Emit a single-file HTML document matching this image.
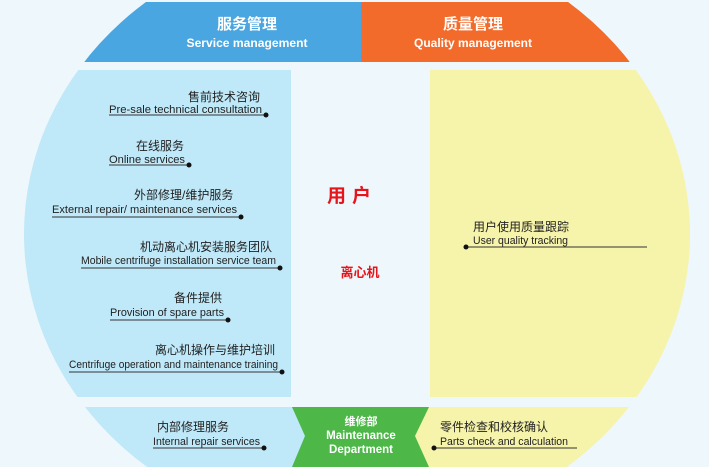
<!DOCTYPE html>
<html><head><meta charset="utf-8"><style>
html,body{margin:0;padding:0;background:#eef7fb;}
svg{display:block;}
text{font-family:"Liberation Sans","Noto Sans CJK SC",sans-serif;}
.cn{font-size:12px;fill:#222;}
.en{font-size:11px;fill:#222;}
.w{fill:#fff;font-weight:bold;}
</style></head><body>
<svg width="709" height="467" viewBox="0 0 709 467" xmlns="http://www.w3.org/2000/svg">
<defs><clipPath id="c"><ellipse cx="357" cy="234" rx="333" ry="300"/></clipPath></defs>
<rect width="709" height="467" fill="#eef7fb"/>
<g clip-path="url(#c)">
<rect x="0" y="2" width="361" height="60" fill="#4aa6e0"/>
<rect x="361" y="2" width="348" height="60" fill="#f26b2b"/>
<rect x="0" y="70" width="291" height="327" fill="#bfe8f8"/>
<rect x="430" y="70" width="279" height="327" fill="#f6f3aa"/>
<rect x="0" y="407" width="310" height="60" fill="#bfe8f8"/>
<rect x="410" y="407" width="299" height="60" fill="#f6f3aa"/>
<polygon points="292,407 429,407 415,436 429,467 292,467 305,436" fill="#4db748"/>
</g>
<text x="247" y="29" text-anchor="middle" class="w" font-size="15">服务管理</text>
<text x="247" y="47" text-anchor="middle" class="w" font-size="12" font-weight="normal" textLength="121" lengthAdjust="spacingAndGlyphs">Service management</text>
<text x="473" y="29" text-anchor="middle" class="w" font-size="15">质量管理</text>
<text x="473" y="47" text-anchor="middle" class="w" font-size="12" font-weight="normal" textLength="118" lengthAdjust="spacingAndGlyphs">Quality management</text>

<g stroke="#333" stroke-width="1">
<line x1="109" y1="115" x2="266" y2="115"/>
<line x1="109" y1="165" x2="189" y2="165"/>
<line x1="52" y1="217" x2="241" y2="217"/>
<line x1="81" y1="268" x2="280" y2="268"/>
<line x1="110" y1="320" x2="228" y2="320"/>
<line x1="69" y1="372" x2="282" y2="372"/>
<line x1="466" y1="247" x2="647" y2="247"/>
<line x1="153" y1="448" x2="264" y2="448"/>
<line x1="434" y1="448" x2="577" y2="448"/>
</g>
<g fill="#111">
<circle cx="266" cy="115" r="2.5"/><circle cx="189" cy="165" r="2.5"/><circle cx="241" cy="217" r="2.5"/>
<circle cx="280" cy="268" r="2.5"/><circle cx="228" cy="320" r="2.5"/><circle cx="282" cy="372" r="2.5"/>
<circle cx="466" cy="247" r="2.5"/><circle cx="264" cy="448" r="2.5"/><circle cx="434" cy="448" r="2.5"/>
</g>
<g text-anchor="start">
<text x="188" y="101" class="cn">售前技术咨询</text>
<text x="109" y="113" class="en" textLength="153" lengthAdjust="spacingAndGlyphs">Pre-sale technical consultation</text>
<text x="136" y="150" class="cn">在线服务</text>
<text x="109" y="163" class="en" textLength="76" lengthAdjust="spacingAndGlyphs">Online services</text>
<text x="134" y="199" class="cn">外部修理/维护服务</text>
<text x="52" y="213" class="en" textLength="185" lengthAdjust="spacingAndGlyphs">External repair/ maintenance services</text>
<text x="140" y="251" class="cn">机动离心机安装服务团队</text>
<text x="81" y="264" class="en" textLength="195" lengthAdjust="spacingAndGlyphs">Mobile centrifuge installation service team</text>
<text x="174" y="302" class="cn">备件提供</text>
<text x="110" y="316" class="en" textLength="114" lengthAdjust="spacingAndGlyphs">Provision of spare parts</text>
<text x="155" y="354" class="cn">离心机操作与维护培训</text>
<text x="69" y="368" class="en" textLength="209" lengthAdjust="spacingAndGlyphs">Centrifuge operation and maintenance training</text>
<text x="157" y="431" class="cn">内部修理服务</text>
<text x="153" y="445" class="en" textLength="107" lengthAdjust="spacingAndGlyphs">Internal repair services</text>
</g>
<text x="473" y="231" class="cn">用户使用质量跟踪</text>
<text x="473" y="244" class="en" textLength="95" lengthAdjust="spacingAndGlyphs">User quality tracking</text>
<text x="440" y="431" class="cn">零件检查和校核确认</text>
<text x="440" y="445" class="en" textLength="128" lengthAdjust="spacingAndGlyphs">Parts check and calculation</text>

<text x="361" y="425" text-anchor="middle" class="w" font-size="11">维修部</text>
<text x="361" y="439" text-anchor="middle" class="w" font-size="11.5">Maintenance</text>
<text x="361" y="453" text-anchor="middle" class="w" font-size="11.5">Department</text>

<text x="352" y="202" text-anchor="middle" fill="#e8141b" font-size="19" font-weight="bold" letter-spacing="6">用户</text>
<text x="360" y="277" text-anchor="middle" fill="#e8141b" font-size="13" font-weight="bold">离心机</text>
</svg>
</body></html>
